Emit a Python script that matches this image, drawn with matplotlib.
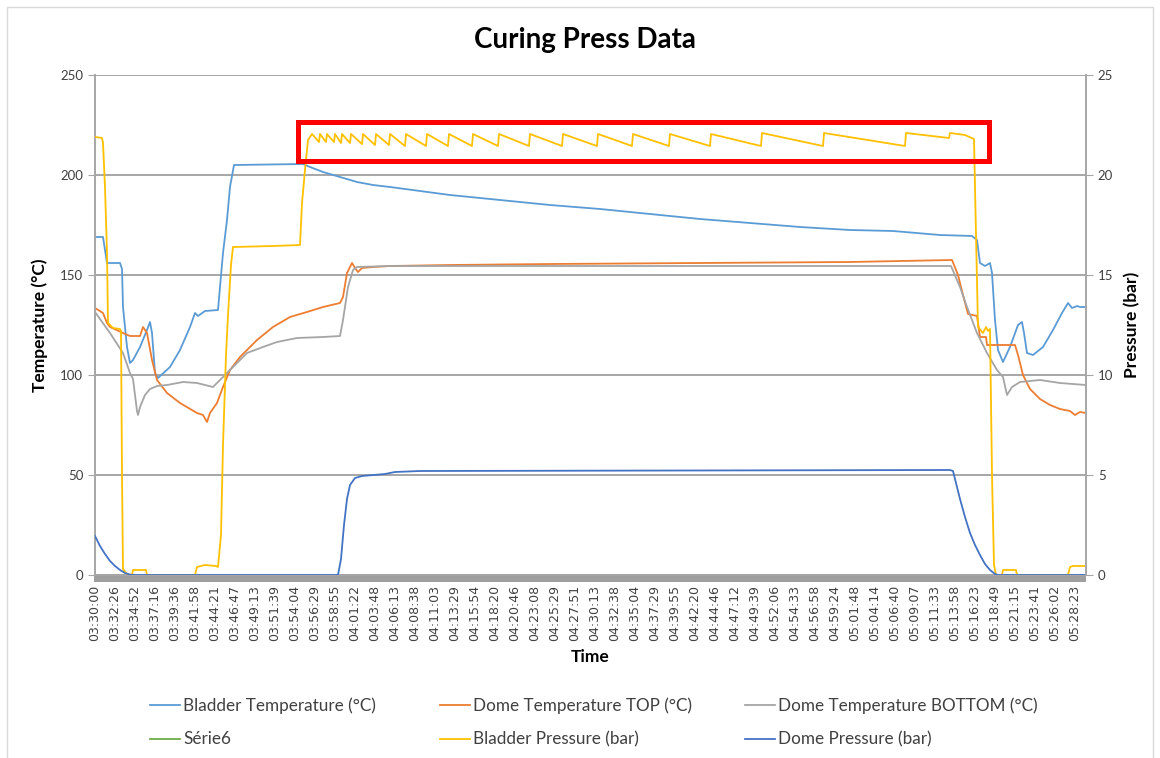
import matplotlib
matplotlib.use('Agg')
import matplotlib.pyplot as plt
from matplotlib.patches import Rectangle
from matplotlib.ticker import MultipleLocator

# category (time) axis labels
time_labels = ['03:30:00', '03:32:26', '03:34:52', '03:37:16', '03:39:36', '03:41:58', '03:44:21',
               '03:46:47', '03:49:13', '03:51:39', '03:54:04', '03:56:29', '03:58:55', '04:01:22',
               '04:03:48', '04:06:13', '04:08:38', '04:11:03', '04:13:29', '04:15:54', '04:18:20',
               '04:20:46', '04:23:08', '04:25:29', '04:27:51', '04:30:13', '04:32:38', '04:35:04',
               '04:37:29', '04:39:55', '04:42:20', '04:44:46', '04:47:12', '04:49:39', '04:52:06',
               '04:54:33', '04:56:58', '04:59:24', '05:01:48', '05:04:14', '05:06:40', '05:09:07',
               '05:11:33', '05:13:58', '05:16:23', '05:18:49', '05:21:15', '05:23:41', '05:26:02',
               '05:28:23']

# x of every series is given in units of the time-label index
# Bladder Temperature (°C)
bt_x = [0, 0.4, 0.6, 1.25, 1.35, 1.4, 1.6, 1.75, 1.9, 2.25, 2.6, 2.75, 2.85, 3.0, 3.15, 3.75, 4.25,
        4.75, 5.0, 5.15, 5.5, 6.15, 6.25, 6.4, 6.6, 6.75, 6.95, 10.4, 10.75, 11.4, 12.25, 13.1, 13.9,
        14.75, 17.75, 20.25, 22.75, 25.25, 27.75, 30.25, 32.75, 35.25, 37.75, 39.9, 42.25, 43.85,
        44.1, 44.25, 44.5, 44.75, 44.85, 45.0, 45.15, 45.4, 45.75, 46.15, 46.35, 46.45, 46.6, 46.9,
        47.4, 47.9, 48.35, 48.65, 48.85, 49.1, 49.25, 49.55]
bt_y = [169, 169, 156, 156, 153, 134, 114, 106, 107.5, 114, 122.5, 126.5, 121, 101, 98.5, 104, 112.5,
        124, 131, 129.5, 132, 132.5, 144, 161, 177.5, 194, 205, 205.5, 204, 201.5, 199, 196.5, 195,
        194, 190, 187.5, 185, 183, 180.5, 178, 176, 174, 172.5, 172, 170, 169.5,
        167.5, 156, 154.5, 156, 151, 127.5, 112.5, 106.5, 114, 125, 126.5, 121, 111, 110,
        114, 122.5, 131, 136, 133.5, 134.5, 134, 134]

# Dome Temperature TOP (°C)
top_x = [0, 0.4, 0.6, 0.75, 1.4, 1.75, 2.25, 2.4, 2.6, 2.85, 3.1, 3.6, 4.25, 5.1, 5.4, 5.6, 5.75, 6.1,
         6.4, 6.75, 7.25, 8.1, 8.9, 9.75, 10.6, 11.4, 12.25, 12.4, 12.6, 12.85, 13.0, 13.15, 13.35,
         13.9, 14.75, 17.75, 22.75, 30.25, 37.75, 42.85, 43.15, 43.4, 43.65, 44.1, 44.25, 44.55, 44.6,
         46.0, 46.15, 46.4, 46.75, 47.25, 47.75, 48.25, 48.75, 49.0, 49.25, 49.55]
top_y = [133.5, 131, 126, 124, 121, 119.5, 119.5, 124, 121, 107.5, 97.5, 91, 86, 81, 80, 76.5, 81, 86,
         94, 102.5, 109, 117.5, 124, 129, 131.5, 134, 136, 139, 151, 156, 153.5, 151.5, 153.5,
         154, 154.5, 155, 155.5, 156, 156.5, 157.5, 150, 140, 130.5, 129.5, 119, 119, 115,
         115, 110, 100, 93, 88, 85, 83, 82, 80, 81.5, 81]

# Dome Temperature BOTTOM (°C)
bot_x = [0, 0.75, 1.4, 1.75, 1.9, 2.1, 2.15, 2.25, 2.5, 2.75, 3.1, 3.6, 4.4, 5.1, 5.9, 6.4, 6.9, 7.6,
         8.4, 9.1, 10.1, 11.4, 12.25, 12.4, 12.65, 12.9, 13.1, 14.75, 42.8, 43.25, 43.6, 44.1, 44.6,
         45.1, 45.4, 45.6, 45.85, 46.25, 47.25, 48.25, 49.55]
bot_y = [131.5, 121, 111, 101, 98, 82, 80, 84, 90, 93, 94.5, 95, 96.5, 96, 94, 99, 104, 111,
         114, 116.5, 118.5, 119, 119.5, 127.5, 144, 152.5, 154, 154.5, 154.5, 144, 134, 121, 111,
         102.5, 99, 90, 94, 96.5, 97.5, 96, 95]

# Bladder Pressure (bar)
bp_x = [0, 0.35, 0.4, 0.5, 0.6, 0.65, 0.9, 1.25, 1.3, 1.35, 1.4, 1.6, 1.85, 1.9, 2.55, 2.6, 5.0, 5.1,
        5.5, 6.05, 6.15, 6.3, 6.4, 6.55, 6.65, 6.8, 6.9, 8.9, 10.25, 10.35, 10.5, 10.65, 10.85,
        11.2, 11.25, 11.55, 11.6, 11.95, 12.0, 12.3, 12.35, 12.75, 12.8, 13.35, 13.4, 14.0, 14.05,
        14.7, 14.75, 15.5, 15.55, 16.55, 16.6, 17.65, 17.7, 18.85, 18.9, 20.15, 20.2, 21.7, 21.75,
        23.35, 23.4, 25.1, 25.15, 26.85, 26.9, 28.7, 28.75, 30.75, 30.8, 33.3, 33.35, 36.4, 36.45,
        40.5, 40.55, 42.7, 42.75, 43.5, 43.95,
        44.05, 44.15, 44.4, 44.55, 44.65, 44.75, 44.85, 44.95, 45.05, 45.35, 45.4, 46.05, 46.1,
        48.65, 48.75, 48.9, 49.55]
bp_y = [21.9, 21.85, 21.6, 19.4, 16.1, 12.6, 12.35, 12.3, 12.2, 5, 0.3, 0.05, 0, 0.25, 0.25, 0, 0, 0.4,
        0.5, 0.45, 0.4, 2, 6.5, 11, 13, 15.5, 16.4, 16.45, 16.5, 18.6, 20.25, 21.75, 22.05,
        21.65, 22.05, 21.65, 22.05, 21.65, 22.05, 21.6, 22.05, 21.6, 22.05, 21.55, 22.05, 21.5, 22.05,
        21.5, 22.05, 21.45, 22.05, 21.45, 22.05, 21.45, 22.05, 21.45, 22.05, 21.45, 22.05, 21.45, 22.05,
        21.45, 22.05, 21.45, 22.05, 21.45, 22.05, 21.45, 22.05, 21.45, 22.05, 21.45, 22.1, 21.45, 22.1,
        21.45, 22.1, 21.85, 22.1, 22.0, 21.8,
        17, 12.4, 12.1, 12.4, 12.2, 12.3, 5, 0.5, 0, 0, 0.25, 0.25, 0,
        0, 0.4, 0.45, 0.45]

# Dome Pressure (bar)
dp_x = [0, 0.25, 0.5, 0.75, 1.0, 1.25, 1.5, 1.75, 1.9, 12.15, 12.3, 12.45, 12.6, 12.75, 13.0, 13.35,
        14.5, 15.0, 16.25, 42.75, 42.9, 43.05, 43.25, 43.5, 43.75, 44.0, 44.25, 44.5, 44.75, 45.0,
        45.15, 49.55]
dp_y = [1.95, 1.45, 1.05, 0.7, 0.45, 0.25, 0.1, 0.02, 0, 0, 0.8, 2.5, 3.8, 4.5, 4.85, 4.95,
        5.05, 5.15, 5.2, 5.25, 5.2, 4.6, 3.8, 2.9, 2.1, 1.5, 1.0, 0.55, 0.25, 0.05,
        0, 0]

c_bt = '#5B9BD5'
c_top = '#ED7D31'
c_bot = '#A5A5A5'
c_s6 = '#70AD47'
c_bp = '#FFC000'
c_dp = '#4472C4'
grid_c = '#A6A6A6'
txt_c = '#404040'
lw = 1.3

W, H = 1160, 758
fig = plt.figure(figsize=(W / 100, H / 100), dpi=100)
ax = fig.add_axes([95 / W, 1 - 575 / H, (1086 - 95) / W, 500 / H])
ax2 = ax.twinx()

h_bt, = ax.plot(bt_x, bt_y, color=c_bt, lw=lw, label='Bladder Temperature (°C)')
h_top, = ax.plot(top_x, top_y, color=c_top, lw=lw, label='Dome Temperature TOP (°C)')
h_bot, = ax.plot(bot_x, bot_y, color=c_bot, lw=lw, label='Dome Temperature BOTTOM (°C)')
h_s6, = ax.plot([], [], color=c_s6, lw=lw, label='Série6')
h_bp, = ax2.plot(bp_x, bp_y, color=c_bp, lw=lw, label='Bladder Pressure (bar)')
h_dp, = ax2.plot(dp_x, dp_y, color=c_dp, lw=lw, label='Dome Pressure (bar)')

ax.set_xlim(0, 49.55)
ax.set_ylim(0, 250)
ax2.set_ylim(0, 25)
ax.set_yticks(range(0, 251, 50))
ax2.set_yticks(range(0, 26, 5))
ax.grid(axis='y', color=grid_c, lw=1.4)
ax.set_axisbelow(True)

ax.set_xticks(range(len(time_labels)))
ax.set_xticklabels(time_labels, rotation=90, fontsize=9, family='DejaVu Sans', color=txt_c)
ax.xaxis.set_minor_locator(MultipleLocator(0.1))
ax.tick_params(axis='x', which='both', length=5, width=1.2, color='#8C8C8C', pad=2)
ax.tick_params(axis='y', length=5, color=grid_c, labelsize=9.5, labelcolor=txt_c)
ax2.tick_params(axis='y', length=5, color=grid_c, labelsize=9.5, labelcolor=txt_c)
for lab in ax.get_yticklabels() + ax2.get_yticklabels():
    lab.set_family('Lato')

for s in ['left', 'bottom']:
    ax.spines[s].set_color(grid_c)
    ax.spines[s].set_linewidth(1.4)
ax.spines['top'].set_visible(False)
ax.spines['right'].set_visible(False)
for s in ['left', 'top', 'bottom']:
    ax2.spines[s].set_visible(False)
ax2.spines['right'].set_color(grid_c)
ax2.spines['right'].set_linewidth(1.4)

# red highlight box around the bladder pressure plateau
box = Rectangle((10.15, 207.25), 44.72 - 10.15, 226.5 - 207.25,
                fill=False, edgecolor='#FF0000', lw=3.6, zorder=10, clip_on=False)
ax2.add_patch(box)
box.set_transform(ax.transData)

fig.text(585 / W, 1 - 40 / H, 'Curing Press Data', ha='center', va='center',
         fontsize=20, fontweight='bold', family='Lato', color='#000000')
fig.text(40 / W, 1 - 325 / H, 'Temperature (°C)', ha='center', va='center', rotation=90,
         fontsize=12.5, fontweight='bold', family='Lato', color='#000000')
fig.text(1132 / W, 1 - 325 / H, 'Pressure (bar)', ha='center', va='center', rotation=90,
         fontsize=12.5, fontweight='bold', family='Lato', color='#000000')
fig.text(590 / W, 1 - 657 / H, 'Time', ha='center', va='center',
         fontsize=12.5, fontweight='bold', family='Lato', color='#000000')

# legend: three columns of two entries each, placed like the reference
leg_cols = [([h_bt, h_s6], 150), ([h_top, h_bp], 440), ([h_bot, h_dp], 745)]
for hs, x0 in leg_cols:
    leg = fig.legend(handles=hs, loc='upper left', bbox_to_anchor=(x0 / W, 1 - 697 / H),
                     frameon=False, borderpad=0, borderaxespad=0, handlelength=1.75,
                     handletextpad=0.2, labelspacing=1.05,
                     prop={'family': 'Lato', 'size': 12.3})
    for t in leg.get_texts():
        t.set_color(txt_c)

# chart border
fig.add_artist(Rectangle((7 / W, -0.02), 1146 / W, 1 - 7 / H + 0.02, transform=fig.transFigure,
                         fill=False, edgecolor='#D9D9D9', lw=1.0))

fig.savefig('out.png', dpi=100)
